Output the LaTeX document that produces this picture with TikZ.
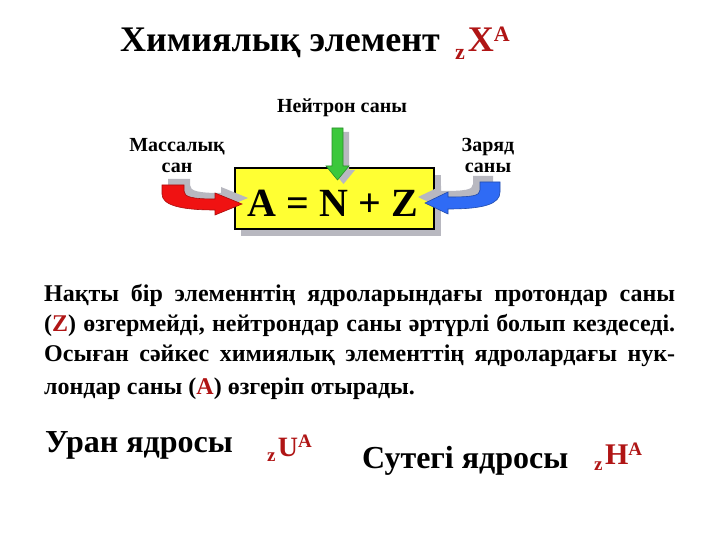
\documentclass[tikz,border=0pt]{standalone}
\usepackage{fontspec}
\setmainfont{Liberation Serif}
\usepackage{tikz}
\usepackage{xcolor}
\definecolor{elemred}{HTML}{B01515}
\definecolor{arrred}{HTML}{F01212}
\definecolor{arrgreen}{HTML}{3CC83C}
\definecolor{arrblue}{HTML}{2F6BF5}
\definecolor{boxyellow}{HTML}{FFFF33}
\definecolor{shadegray}{HTML}{B8B8C0}
\newcommand{\nucl}[3]{\fontsize{#2}{#2}\selectfont
  \raisebox{-0.2em}{\fontsize{#3}{#3}\selectfont z}\kern0.08em#1\raisebox{0.29em}{\fontsize{#3}{#3}\selectfont A}}
\newcommand{\redpath}{(162,185) -- (184,185) -- (184,191) .. controls (184,197) and (192,199) .. (215,199)
  -- (215,193) -- (242,204) -- (215,215) -- (215,210) .. controls (180,210) and (162,205) .. (162,194) -- cycle}
\newcommand{\bluepath}{(500,182) -- (480,182) -- (480,190) .. controls (480,196) and (472,197) .. (448,197)
  -- (448,192) -- (425,203) -- (448,214) -- (448,209) .. controls (484,209) and (500,204) .. (500,192) -- cycle}
\newcommand{\greenpath}{(332,128) -- (343,128) -- (343,166) -- (349,166) -- (337.5,180) -- (326,166) -- (332,166) -- cycle}

\begin{document}
\begin{tikzpicture}[x=1pt, y=-1pt,
    txt/.style={inner sep=0pt, font=\bfseries},
    lbl/.style={txt, anchor=base, font=\bfseries\fontsize{20}{20}\selectfont},
    para/.style={txt, anchor=base west, font=\bfseries\fontsize{24}{24}\selectfont}]
  \fill[white] (0,0) rectangle (720,540);
  \useasboundingbox (0,0) rectangle (720,540);

  \node[txt, anchor=base west, font=\bfseries\fontsize{36}{36}\selectfont] (title) at (120,52) {Химиялық элемент};
  \node[txt, anchor=base west, text=elemred] (symX) at (455,52) {\nucl{X}{36}{22}};

  \node[lbl] (neutron) at (342,113) {Нейтрон саны};
  \node[lbl] (massA) at (177,152) {Массалық};
  \node[lbl] (massB) at (177,173) {сан};
  \node[lbl] (chargeA) at (488,152) {Заряд};
  \node[lbl] (chargeB) at (488,173) {саны};

  \fill[shadegray] (241,175) rectangle (441,236);
  \node[draw, line width=1.5pt, fill=boxyellow, minimum width=199pt, minimum height=61pt, inner sep=0pt] (eqbox) at (334.5,198.5) {};
  \node[txt, anchor=base, font=\bfseries\fontsize{40}{40}\selectfont] (eqtext) at (333,216) {A = N + Z};

  \begin{scope}[shift={(6,4)}]
    \fill[shadegray] \greenpath;
  \end{scope}
  \filldraw[fill=arrgreen, draw=arrgreen!70!black, line width=0.6pt] \greenpath;
  \begin{scope}[shift={(6,-6)}]
    \fill[shadegray] \redpath;
  \end{scope}
  \filldraw[fill=arrred, draw=arrred!70!black, line width=0.6pt] \redpath;
  \begin{scope}[shift={(-7,-6)}]
    \fill[shadegray] \bluepath;
  \end{scope}
  \filldraw[fill=arrblue, draw=arrblue!70!black, line width=0.6pt] \bluepath;

  \node[para] (line1) at (44,301) {\makebox[631pt][s]{Нақты бір элеменнтің ядроларындағы протондар саны}};
  \node[para] (line2) at (44,331) {\makebox[631pt][s]{(\textcolor{elemred}{Z}) өзгермейді, нейтрондар саны әртүрлі болып кездеседі.}};
  \node[para] (line3) at (44,361) {\makebox[631pt][s]{Осыған сәйкес химиялық элементтің ядролардағы нук-}};
  \node[para] (line4) at (44,394) {лондар саны (\textcolor{elemred}{A}) өзгеріп отырады.};

  \node[txt, anchor=base west, font=\bfseries\fontsize{32}{32}\selectfont] (uran) at (45,452) {Уран ядросы};
  \node[txt, anchor=base west, text=elemred] (symU) at (267,456) {\nucl{U}{28}{19}};
  \node[txt, anchor=base west, font=\bfseries\fontsize{32}{32}\selectfont] (hydro) at (362,468) {Сутегі ядросы};
  \node[txt, anchor=base west, text=elemred] (symH) at (594,464) {\nucl{H}{30}{19}};
\end{tikzpicture}
\end{document}
